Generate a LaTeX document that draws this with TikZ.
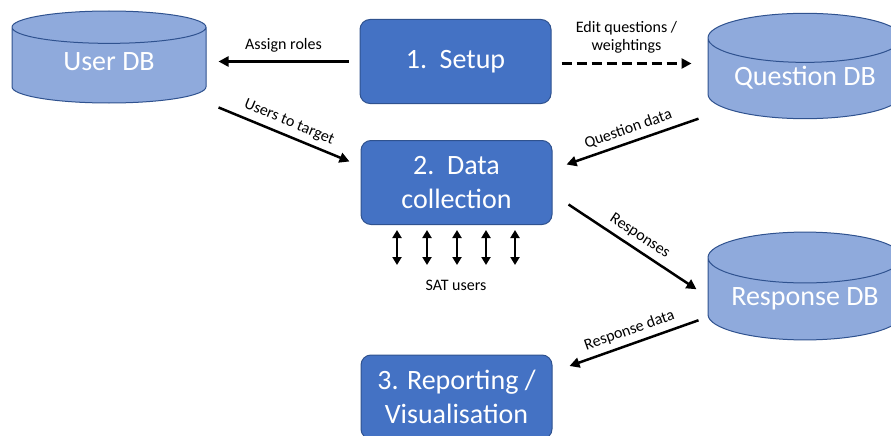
\documentclass[tikz,border=0pt]{standalone}
\usepackage{fontspec}
\setmainfont{Carlito}
\usetikzlibrary{arrows.meta,positioning,shapes.geometric,calc}
\definecolor{BoxBlue}{HTML}{4472C4}
\definecolor{BoxEdge}{HTML}{2F528F}
\definecolor{DBBlue}{HTML}{8FAADC}

\begin{document}
\begin{tikzpicture}[x=1pt,y=-1pt,
  stage/.style={rectangle,rounded corners=10pt,minimum width=191pt,
                minimum height=84pt,align=center,draw=BoxEdge,line width=1pt,
                fill=BoxBlue,text=white,font=\fontsize{28}{34}\selectfont},
  db/.style={cylinder,shape border rotate=90,aspect=0.33,minimum width=194pt,
             minimum height=92pt,draw=BoxEdge,line width=1pt,fill=DBBlue,
             text=white,text height=19pt,text depth=12pt,
             font=\fontsize{28}{33}\selectfont,anchor=shape center},
  lbl/.style={font=\fontsize{16}{18}\selectfont,text=black},
  arrow/.style={-{Triangle[length=10pt,width=10pt]},line width=2.5pt},
  satarrow/.style={{Triangle[length=8pt,width=9pt]}-{Triangle[length=8pt,width=9pt]},
                   line width=2pt}
]
  \useasboundingbox (0,0) rectangle (891,436);

  % databases
  \node[db] (userdb) at (109,57) {User DB};
  \node[db] (questiondb) at (805,66) {Question DB};
  \node[db] (responsedb) at (805,286) {Response DB};

  % the three stages
  \node[stage] (setup) at (455.5,61.5) {1.\ \ Setup};
  \node[stage] (collect) at (456.5,182.5) {2.\ \ Data\\collection};
  \node[stage] (report) at (456.5,397) {3. Reporting /\\Visualisation};

  % users answering the survey
  \foreach \i/\x in {1/397,2/427,3/457,4/486,5/515}{
    \coordinate (sat\i top) at (\x,230);
    \coordinate (sat\i bot) at (\x,265);
    \draw[satarrow] (sat\i top) -- (sat\i bot);
  }
  \node[lbl] (satusers) at (456,285) {SAT users};

  % flows
  \draw[arrow] ($(setup.west)+(-11,0)$) -- ($(setup.west-|userdb.east)+(12,0)$)
    node[lbl,midway,above=5pt] {Assign roles};
  \draw[arrow] ($(userdb.east)+(12,40)$) -- ($(collect.west)+(-11,-21)$)
    node[lbl,midway,sloped,above=2pt] {Users to target};
  \draw[arrow,dash pattern=on 10pt off 5pt] ($(setup.east)+(10,2)$)
    -- ($(setup.east-|questiondb.west)+(-16,2)$)
    node[lbl,midway,above=6pt,align=center] {Edit questions /\\weightings};
  \draw[arrow] ($(questiondb.west)+(-9,37)$) -- ($(collect.east)+(14,-18)$)
    node[lbl,midway,sloped,above=2pt] {Question data};
  \draw[arrow] ($(collect.east)+(16,22)$) -- ($(responsedb.west)+(-11,-13)$)
    node[lbl,midway,sloped,above=2pt] {Responses};
  \draw[arrow] ($(responsedb.west)+(-9,18)$) -- ($(report.east)+(17,-31)$)
    node[lbl,midway,sloped,above=2pt] {Response data};
\end{tikzpicture}
\end{document}
